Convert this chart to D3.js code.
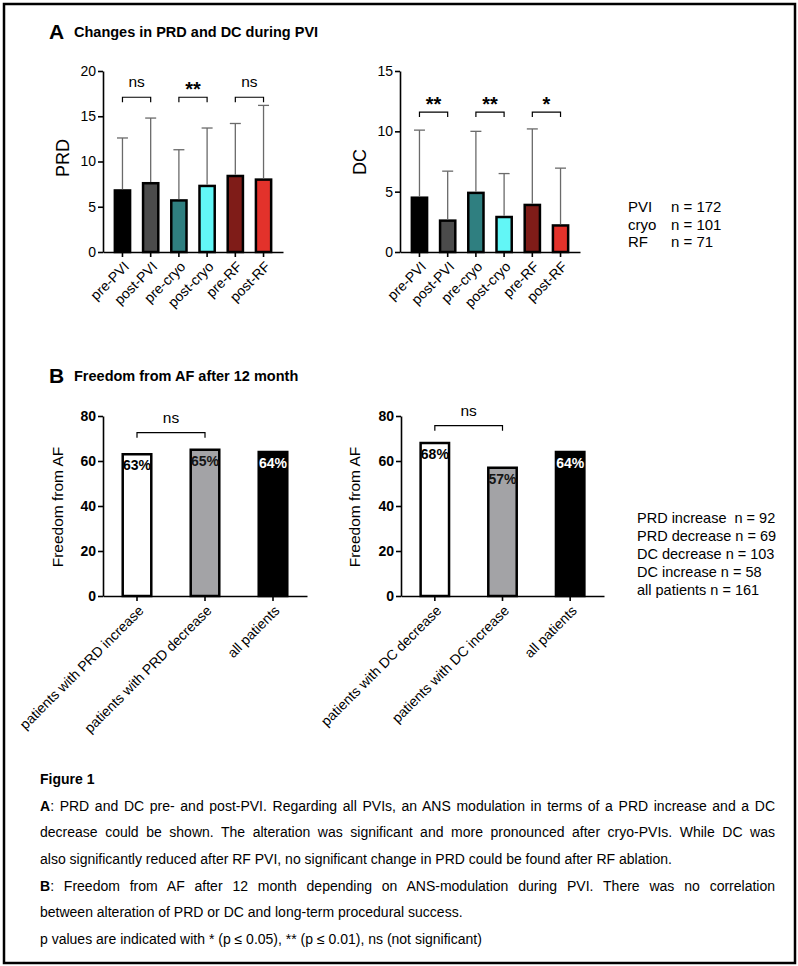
<!DOCTYPE html>
<html>
<head>
<meta charset="utf-8">
<script src="https://cdn.jsdelivr.net/npm/d3@7"></script>
<style>
	body { margin: 0; background: #fff; }
	#wrap { position: relative; width: 798px; height: 966px; }
	svg { position: absolute; left: 0; top: 0; }
	#caption { position: absolute; left: 40px; top: 769px; width: 735px; font-family: "Liberation Sans", Arial, sans-serif; font-size: 14px; color: #000; }
	#caption div { height: 26.7px; line-height: 20px; white-space: nowrap; }
	#caption div.just { text-align: justify; text-align-last: justify; white-space: normal; }
</style>
</head>
<body>
<div id="wrap">
	<div id="caption"></div>
</div>
<script>
// Panel A data
const groupsA = ["pre-PVI", "post-PVI", "pre-cryo", "post-cryo", "pre-RF", "post-RF"];
const prdMean = [6.8, 7.6, 5.7, 7.3, 8.4, 8.0];
const prdSD = [5.8, 7.2, 5.6, 6.4, 5.8, 8.2];
const dcMean = [4.5, 2.6, 4.9, 2.9, 3.9, 2.2];
const dcSD = [5.6, 4.1, 5.1, 3.6, 6.3, 4.75];
const colorsA = ["#000000", "#4b4b4b", "#2f7f80", "#62f6f6", "#7f1c18", "#e3322b"];
const prdTicks = [0, 5, 10, 15, 20];
const dcTicks = [0, 5, 10, 15];
const prdSig = [
	{ from: 0, to: 1, label: "ns", at: 17.1 },
	{ from: 2, to: 3, label: "**", at: 17.1 },
	{ from: 4, to: 5, label: "ns", at: 17.1 },
];
const dcSig = [
	{ from: 0, to: 1, label: "**", at: 11.6 },
	{ from: 2, to: 3, label: "**", at: 11.6 },
	{ from: 4, to: 5, label: "*", at: 11.6 },
];
const legendA = [["PVI", "n = 172"], ["cryo", "n = 101"], ["RF", "n = 71"]];

// Panel B data
const groupsPRD = ["patients with PRD increase", "patients with PRD decrease", "all patients"];
const freedomPRD = [63, 65, 64];
const groupsDC = ["patients with DC decrease", "patients with DC increase", "all patients"];
const freedomDC = [68, 57, 64];
const colorsB = ["#ffffff", "#a3a3a6", "#000000"];
const labelColorsB = ["#000000", "#151515", "#ffffff"];
const freedomTicks = [0, 20, 40, 60, 80];
const sigPRD = [{ from: 0, to: 1, label: "ns", at: 72.6 }];
const sigDC = [{ from: 0, to: 1, label: "ns", at: 75.7 }];
const legendB = ["PRD increase  n = 92", "PRD decrease n = 69", "DC decrease n = 103", "DC increase n = 58", "all patients n = 161"];

const captionLines = [
	{ html: "<b>Figure 1</b>", just: false },
	{ html: "<b>A</b>: PRD and DC pre- and post-PVI. Regarding all PVIs, an ANS modulation in terms of a PRD increase and a DC", just: true },
	{ html: "decrease could be shown. The alteration was significant and more pronounced after cryo-PVIs. While DC was", just: true },
	{ html: "also significantly reduced after RF PVI, no significant change in PRD could be found after RF ablation.", just: false },
	{ html: "<b>B</b>: Freedom from AF after 12 month depending on ANS-modulation during PVI. There was no correlation", just: true },
	{ html: "between alteration of PRD or DC and long-term procedural success.", just: false },
	{ html: "p values are indicated with * (p \u2264 0.05), ** (p \u2264 0.01), ns (not significant)", just: false },
];

const font = "'Liberation Sans', Arial, sans-serif";

const svg = d3
	.select("#wrap")
	.insert("svg", "#caption")
	.attr("width", 798)
	.attr("height", 966)
	.style("font-family", font);

// Frame
svg
	.append("rect")
	.attr("x", 4)
	.attr("y", 4)
	.attr("width", 791)
	.attr("height", 959)
	.attr("fill", "none")
	.attr("stroke", "#000")
	.attr("stroke-width", 2.5);

// Panel titles
function panelTitle(letter, text, y) {
	svg.append("text").attr("x", 49).attr("y", y + 7.5).attr("font-size", 21).attr("font-weight", "bold").text(letter);
	svg.append("text").attr("x", 74).attr("y", y + 5.5).attr("font-size", 14.5).attr("font-weight", "bold").text(text);
}
panelTitle("A", "Changes in PRD and DC during PVI", 31);
panelTitle("B", "Freedom from AF after 12 month", 375);

// Generic bar chart
function barChart(opt) {
	const g = svg.append("g").attr("transform", `translate(${opt.x0}, 0)`);
	const w = opt.x1 - opt.x0;

	const x = d3
		.scaleBand()
		.domain(opt.groups)
		.range([0, w])
		.paddingInner(opt.pi)
		.paddingOuter(opt.po);

	const y = d3
		.scaleLinear()
		.domain([0, d3.max(opt.ticks)])
		.range([opt.yBottom, opt.yTop]);

	// Bars
	g.selectAll("rect.bar")
		.data(opt.values)
		.enter()
		.append("rect")
		.attr("class", "bar")
		.attr("x", (d, i) => x(opt.groups[i]))
		.attr("y", (d) => y(d))
		.attr("width", x.bandwidth())
		.attr("height", (d) => y(0) - y(d))
		.attr("fill", (d, i) => opt.colors[i])
		.attr("stroke", "#000")
		.attr("stroke-width", 2.5);

	// Error bars (upper only)
	if (opt.sd) {
		const cx = (i) => x(opt.groups[i]) + x.bandwidth() / 2;
		const err = g.selectAll("g.err").data(opt.values).enter().append("g");
		err
			.append("line")
			.attr("x1", (d, i) => cx(i))
			.attr("x2", (d, i) => cx(i))
			.attr("y1", (d) => y(d) - 1.2)
			.attr("y2", (d, i) => y(d + opt.sd[i]))
			.attr("stroke", "#6a6a6a")
			.attr("stroke-width", 1.3);
		err
			.append("line")
			.attr("x1", (d, i) => cx(i) - 5.5)
			.attr("x2", (d, i) => cx(i) + 5.5)
			.attr("y1", (d, i) => y(d + opt.sd[i]))
			.attr("y2", (d, i) => y(d + opt.sd[i]))
			.attr("stroke", "#6a6a6a")
			.attr("stroke-width", 1.3);
	}

	// Value labels inside bars
	if (opt.labels) {
		g.selectAll("text.val")
			.data(opt.values)
			.enter()
			.append("text")
			.attr("x", (d, i) => x(opt.groups[i]) + x.bandwidth() / 2)
			.attr("y", (d) => y(d) + 16)
			.attr("text-anchor", "middle")
			.attr("font-size", 14)
			.attr("font-weight", "bold")
			.attr("fill", (d, i) => opt.labelColors[i])
			.text((d) => d + "%");
	}

	// Significance brackets
	opt.sig.forEach((s) => {
		const xa = x(opt.groups[s.from]) + x.bandwidth() / 2;
		const xb = x(opt.groups[s.to]) + x.bandwidth() / 2;
		const yy = y(s.at);
		g.append("path")
			.attr("d", `M${xa},${yy + 5}V${yy}H${xb}V${yy + 5}`)
			.attr("fill", "none")
			.attr("stroke", "#000")
			.attr("stroke-width", 1.2);
		const stars = s.label !== "ns";
		g.append("text")
			.attr("x", (xa + xb) / 2)
			.attr("y", stars ? yy - 1 : yy - 10)
			.attr("text-anchor", "middle")
			.attr("font-size", stars ? 20 : 15.5)
			.attr("font-weight", stars ? "bold" : "normal")
			.text(s.label);
	});

	// Y axis
	const yAxis = g
		.append("g")
		.call(d3.axisLeft(y).tickValues(opt.ticks).tickSize(5).tickSizeOuter(0).tickPadding(2));
	yAxis.selectAll("text").attr("font-size", 14).attr("font-weight", opt.boldTicks ? "bold" : "normal").attr("font-family", font).attr("fill", "#000");

	// X axis
	const xAxis = g
		.append("g")
		.attr("transform", `translate(0, ${opt.yBottom})`)
		.call(d3.axisBottom(x).tickSize(5).tickSizeOuter(0));
	xAxis
		.selectAll("text")
		.attr("font-size", 14)
		.attr("font-family", font)
		.attr("fill", "#000")
		.attr("text-anchor", "end")
		.attr("x", 0)
		.attr("y", 0)
		.attr("dy", "0.35em")
		.attr("transform", "translate(4, 12) rotate(-45)");

	[yAxis, xAxis].forEach((a) => {
		a.select(".domain").attr("stroke", "#000").attr("stroke-width", 1.6);
		a.selectAll(".tick line").attr("stroke", "#000").attr("stroke-width", 1.6);
	});

	// Y axis title
	svg
		.append("text")
		.attr("transform", `translate(${opt.titleX}, ${opt.titleY}) rotate(-90)`)
		.attr("text-anchor", "middle")
		.attr("dy", "0.35em")
		.attr("font-size", opt.titleSize)
		.text(opt.title);
}

barChart({ x0: 103, x1: 283, yTop: 71, yBottom: 252, groups: groupsA, values: prdMean, sd: prdSD, colors: colorsA, ticks: prdTicks, sig: prdSig, pi: 0.46, po: 0.42, title: "PRD", titleX: 63, titleY: 158, titleSize: 18 });
barChart({ x0: 400, x1: 580, yTop: 71, yBottom: 252, groups: groupsA, values: dcMean, sd: dcSD, colors: colorsA, ticks: dcTicks, sig: dcSig, pi: 0.46, po: 0.42, title: "DC", titleX: 360, titleY: 162, titleSize: 18 });
barChart({ x0: 103, x1: 307, yTop: 416, yBottom: 596, groups: groupsPRD, values: freedomPRD, colors: colorsB, labels: true, labelColors: labelColorsB, ticks: freedomTicks, sig: sigPRD, pi: 0.58, po: 0.29, boldTicks: true, title: "Freedom from AF", titleX: 58, titleY: 507, titleSize: 15.5 });
barChart({ x0: 401, x1: 604, yTop: 416, yBottom: 596, groups: groupsDC, values: freedomDC, colors: colorsB, labels: true, labelColors: labelColorsB, ticks: freedomTicks, sig: sigDC, pi: 0.58, po: 0.29, boldTicks: true, title: "Freedom from AF", titleX: 355, titleY: 507, titleSize: 15.5 });

// Legend A
const legA = svg.append("g").attr("font-size", 15);
legA.selectAll("text.l1").data(legendA).enter().append("text")
	.attr("x", 628).attr("y", (d, i) => 212 + i * 17.5).text((d) => d[0]);
legA.selectAll("text.l2").data(legendA).enter().append("text")
	.attr("x", 671).attr("y", (d, i) => 212 + i * 17.5).text((d) => d[1]);

// Legend B
svg.append("g").attr("font-size", 14.5)
	.selectAll("text").data(legendB).enter().append("text")
	.attr("x", 637).attr("y", (d, i) => 523 + i * 18)
	.attr("xml:space", "preserve")
	.style("white-space", "pre")
	.text((d) => d);

// Caption
d3.select("#caption")
	.selectAll("div")
	.data(captionLines)
	.enter()
	.append("div")
	.attr("class", (d) => (d.just ? "just" : null))
	.html((d) => d.html);
</script>
</body>
</html>
